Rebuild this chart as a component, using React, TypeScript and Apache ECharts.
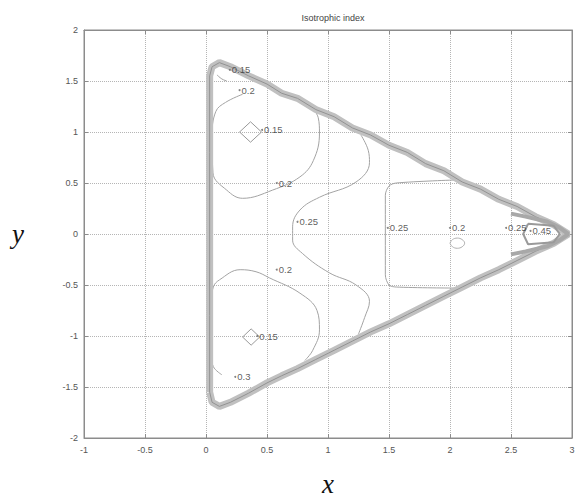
import React, { useEffect, useRef } from "react";
import * as echarts from "echarts";

const titleText = "Isotrophic index";
const xTicks = { min: -1, max: 3, interval: 0.5 };
const yTicks = { min: -2, max: 2, interval: 0.5 };

// domain boundary (pile of contour lines)
const boundary: number[][] = [
  [0.03, -1.55], [0.03, -0.8], [0.03, 0], [0.03, 0.8], [0.03, 1.55],
  [0.05, 1.64], [0.11, 1.68], [0.2, 1.64], [0.35, 1.55], [0.5, 1.47],
  [0.62, 1.38], [0.75, 1.33], [0.9, 1.22], [1.05, 1.15], [1.2, 1.04],
  [1.35, 0.97], [1.5, 0.87], [1.65, 0.8], [1.8, 0.69], [1.95, 0.62],
  [2.1, 0.51], [2.25, 0.44], [2.4, 0.34], [2.55, 0.27], [2.7, 0.17],
  [2.85, 0.09], [2.97, 0], [2.85, -0.09], [2.7, -0.17], [2.55, -0.26],
  [2.4, -0.35], [2.25, -0.43], [2.1, -0.52], [1.95, -0.61], [1.8, -0.7],
  [1.65, -0.79], [1.5, -0.88], [1.35, -0.96], [1.2, -1.05], [1.05, -1.14],
  [0.9, -1.23], [0.75, -1.32], [0.62, -1.39], [0.5, -1.46], [0.35, -1.56],
  [0.2, -1.65], [0.11, -1.69], [0.05, -1.65], [0.03, -1.55],
];

const tipOuter: number[][] = [
  [2.5, 0.2], [2.62, 0.17], [2.8, 0.12], [2.9, 0.06], [2.97, 0],
  [2.9, -0.06], [2.8, -0.12], [2.62, -0.17], [2.5, -0.2],
];
const tipBox: number[][] = [
  [2.64, 0.1], [2.85, 0.08], [2.9, 0], [2.85, -0.08], [2.64, -0.1], [2.6, 0], [2.64, 0.1],
];

const upper02: number[][] = [
  [0.3, 1.37], [0.16, 1.29], [0.08, 1.2], [0.05, 0.95], [0.057, 0.6],
  [0.17, 0.43], [0.3, 0.35], [0.545, 0.43], [0.77, 0.56], [0.88, 0.72],
  [0.93, 0.99], [0.92, 1.14], [0.86, 1.25],
];
const lower02: number[][] = [
  [0.13, -1.38], [0.06, -1.3], [0.04, -1.15], [0.04, -0.7], [0.06, -0.52],
  [0.11, -0.45], [0.28, -0.35], [0.41, -0.37], [0.52, -0.43], [0.77, -0.58],
  [0.91, -0.75], [0.93, -0.94], [0.875, -1.14], [0.81, -1.24],
];
const left025: number[][] = [
  [1.27, 0.97], [1.33, 0.82], [1.34, 0.7], [1.23, 0.51], [0.93, 0.36],
  [0.77, 0.235], [0.71, 0.07], [0.71, -0.06], [0.79, -0.19], [1.01, -0.38],
  [1.23, -0.5], [1.34, -0.66], [1.3, -0.82], [1.25, -0.98],
];
const mid025: number[][] = [
  [2.05, 0.53], [1.56, 0.5], [1.5, 0.47], [1.47, 0.38], [1.47, -0.4],
  [1.5, -0.5], [1.56, -0.52], [2.04, -0.53],
];
const diamondUp: number[][] = [
  [0.275, 1.0], [0.365, 1.1], [0.455, 1.0], [0.365, 0.9], [0.275, 1.0],
];
const diamondDown: number[][] = [
  [0.3, -1.01], [0.37, -0.93], [0.44, -1.01], [0.37, -1.09], [0.3, -1.01],
];
const ring02: number[][] = [
  [2.0, -0.09], [2.02, -0.055], [2.06, -0.04], [2.1, -0.055], [2.12, -0.09],
  [2.1, -0.125], [2.06, -0.14], [2.02, -0.125], [2.0, -0.09],
];
const cornerTop015: number[][] = [
  [0.09, 1.56], [0.13, 1.52], [0.17, 1.5],
];

const labels: [number, number, string][] = [
  [0.195, 1.61, "0.15"],
  [0.275, 1.41, "0.2"],
  [0.46, 1.02, "0.15"],
  [0.58, 0.5, "0.2"],
  [0.75, 0.12, "0.25"],
  [1.49, 0.06, "0.25"],
  [2.0, 0.06, "0.2"],
  [2.46, 0.06, "0.25"],
  [2.66, 0.03, "0.45"],
  [0.58, -0.35, "0.2"],
  [0.42, -1.0, "0.15"],
  [0.24, -1.4, "0.3"],
];

const contourColor = "#a3a3a3";

export default function App() {
  const ref = useRef<HTMLDivElement>(null);
  useEffect(() => {
    if (!ref.current) return;
    const chart = echarts.init(ref.current, undefined, { renderer: "svg" });
    const lineSeries = (data: number[][], color: string, width: number, z = 2, smooth: number | boolean = false) => ({
      type: "line",
      data,
      symbol: "none",
      showSymbol: false,
      smooth,
      silent: true,
      z,
      lineStyle: { color, width },
    });
    const axisCommon = {
      axisLine: { show: true, onZero: false, lineStyle: { color: "#8c8c8c", width: 1 } },
      axisTick: { show: true, inside: true, length: 4, lineStyle: { color: "#8c8c8c" } },
    };
    chart.setOption({
      animation: false,
      title: {
        text: titleText,
        left: 328,
        textAlign: "center",
        top: 8,
        textStyle: { fontSize: 9, fontWeight: "normal", color: "#444", fontFamily: "Liberation Sans" },
      },
      grid: {
        left: 84, right: 7, top: 30, bottom: 59,
        show: true, borderColor: "#8c8c8c", borderWidth: 1,
        containLabel: false, outerBoundsMode: "none",
      },
      xAxis: [
        {
          type: "value",
          ...xTicks,
          position: "bottom",
          ...axisCommon,
          axisLabel: { fontSize: 9, color: "#555", margin: 7, fontFamily: "Liberation Sans" },
          splitLine: { show: true, lineStyle: { type: "dotted", color: "#b5b5b5" } },
          name: "x",
          nameLocation: "middle",
          nameGap: 32,
          nameTextStyle: { fontFamily: "Liberation Serif", fontStyle: "italic", fontSize: 27, color: "#111" },
        },
        {
          type: "value",
          ...xTicks,
          position: "top",
          ...axisCommon,
          axisLabel: { show: false },
          splitLine: { show: false },
        },
      ],
      yAxis: [
        {
          type: "value",
          ...yTicks,
          position: "left",
          ...axisCommon,
          axisLabel: { fontSize: 9, color: "#555", margin: 6, fontFamily: "Liberation Sans" },
          splitLine: { show: true, lineStyle: { type: "dotted", color: "#b5b5b5" } },
          name: "y",
          nameLocation: "middle",
          nameGap: 60,
          nameRotate: 0,
          nameTextStyle: { fontFamily: "Liberation Serif", fontStyle: "italic", fontSize: 27, color: "#111" },
        },
        {
          type: "value",
          ...yTicks,
          position: "right",
          ...axisCommon,
          axisLabel: { show: false },
          splitLine: { show: false },
        },
      ],
      series: [
        lineSeries(boundary, "#c0c0c0", 7, 3),
        lineSeries(boundary, "#929292", 1, 4),
        lineSeries(tipOuter, "#a8a8a8", 4, 4),
        lineSeries(tipBox, "#9a9a9a", 2, 4),
        lineSeries(upper02, contourColor, 1, 2, 0.4),
        lineSeries(lower02, contourColor, 1, 2, 0.4),
        lineSeries(left025, contourColor, 1, 2, 0.4),
        lineSeries(mid025, contourColor, 1, 2, 0.3),
        lineSeries(diamondUp, "#999", 1),
        lineSeries(diamondDown, "#999", 1),
        lineSeries(ring02, "#b0b0b0", 1, 2, 0.4),
        lineSeries(cornerTop015, contourColor, 1, 2, 0.4),
        {
          type: "scatter",
          data: labels,
          symbol: "circle",
          symbolSize: 2,
          silent: true,
          z: 6,
          itemStyle: { color: "#666" },
          label: {
            show: true,
            position: "right",
            distance: 1,
            formatter: (p: any) => p.value[2],
            fontSize: 9.5,
            color: "#333",
            fontFamily: "Liberation Sans",
          },
        },
      ],
    });
    return () => chart.dispose();
  }, []);
  return (
    <div
      ref={ref}
      style={{ position: "absolute", left: 0, top: 0, width: 579, height: 497, background: "#fff" }}
    />
  );
}
